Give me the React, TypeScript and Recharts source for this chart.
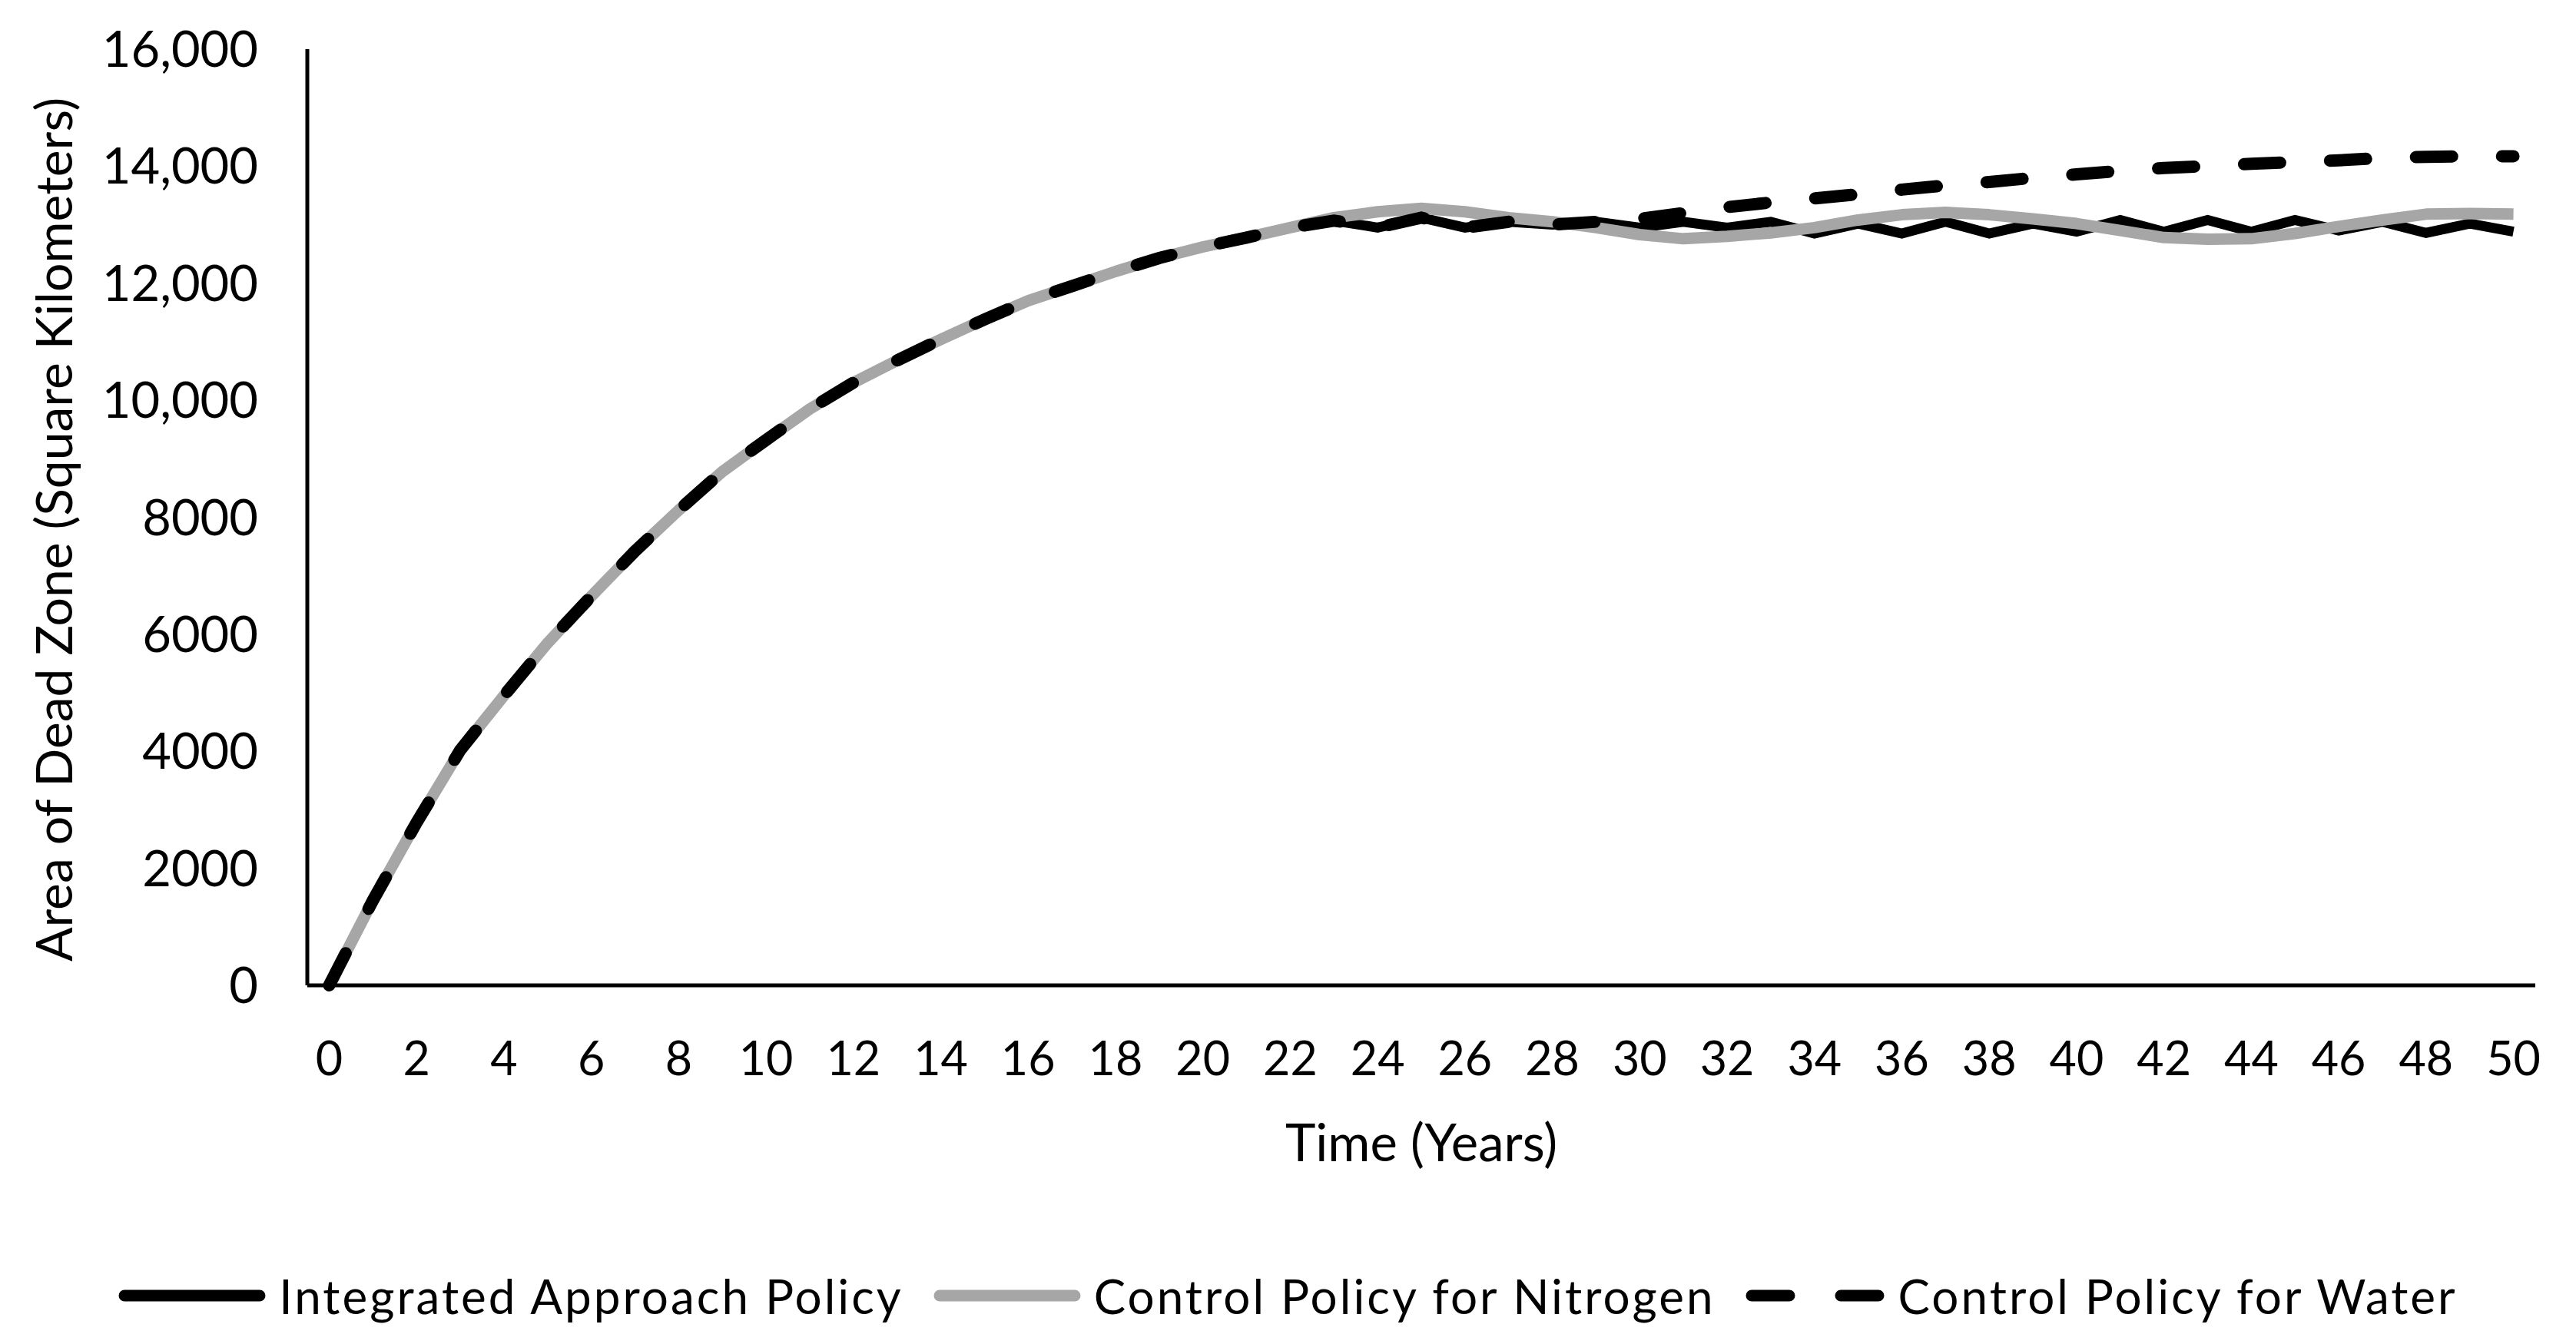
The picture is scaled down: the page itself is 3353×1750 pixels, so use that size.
import React from 'react';
import { LineChart, Line, XAxis, YAxis, Legend } from 'recharts';

const years = [0, 1, 2, 3, 4, 5, 6, 7, 8, 9, 10, 11, 12, 13, 14, 15, 16, 17, 18, 19, 20, 21, 22, 23, 24, 25, 26, 27, 28, 29, 30, 31, 32, 33, 34, 35, 36, 37, 38, 39, 40, 41, 42, 43, 44, 45, 46, 47, 48, 49, 50];

const integratedApproach = [0, 1450, 2780, 4020, 4950, 5850, 6650, 7420, 8120, 8780, 9320, 9850, 10300, 10680, 11040, 11380, 11700, 11950, 12200, 12430, 12620, 12780, 12950, 13070, 12950, 13120, 12950, 13050, 13000, 13050, 12950, 13050, 12950, 13050, 12850, 13020, 12850, 13050, 12850, 13020, 12880, 13080, 12880, 13080, 12880, 13080, 12900, 13050, 12860, 13020, 12880];

const nitrogenControl = [0, 1450, 2780, 4020, 4950, 5850, 6650, 7420, 8120, 8780, 9320, 9850, 10300, 10680, 11040, 11380, 11700, 11950, 12200, 12430, 12620, 12780, 12950, 13120, 13220, 13280, 13220, 13120, 13050, 12950, 12830, 12760, 12800, 12860, 12950, 13080, 13170, 13210, 13170, 13100, 13020, 12900, 12780, 12750, 12760, 12850, 12970, 13080, 13180, 13190, 13180];

const waterControl = [0, 1450, 2780, 4020, 4950, 5850, 6650, 7420, 8120, 8780, 9320, 9850, 10300, 10680, 11040, 11380, 11700, 11950, 12200, 12430, 12620, 12780, 12950, 13070, 12950, 13120, 12950, 13050, 13000, 13050, 13100, 13200, 13300, 13380, 13450, 13520, 13600, 13670, 13730, 13800, 13860, 13920, 13970, 14000, 14040, 14070, 14100, 14140, 14160, 14170, 14170];

const xTicks = [0, 2, 4, 6, 8, 10, 12, 14, 16, 18, 20, 22, 24, 26, 28, 30, 32, 34, 36, 38, 40, 42, 44, 46, 48, 50];
const yTicks = [0, 2000, 4000, 6000, 8000, 10000, 12000, 14000, 16000];

const seriesNames = ['Integrated Approach Policy', 'Control Policy for Nitrogen', 'Control Policy for Water'];

const data = years.map((y, i) => ({
  year: y,
  integrated: integratedApproach[i],
  nitrogen: nitrogenControl[i],
  water: waterControl[i],
}));

const FONT = 'Lato, "Open Sans", sans-serif';
const W = 3337;
const H = 1734;

const fmtY = (v: number) => (v >= 10000 ? v.toLocaleString('en-US') : String(v));

const YTitle = (props: any) => {
  const vb = props.viewBox || { x: 0, y: 0, width: 0, height: 0 };
  const cx = vb.x + 60;
  const cy = vb.y + vb.height / 2 + 16;
  return (
    <text
      x={cx}
      y={cy}
      transform={`rotate(-90, ${cx}, ${cy})`}
      textAnchor="middle"
      dominantBaseline="central"
      fontFamily={FONT}
      fontSize={66}
      fill="#000"
    >
      Area of Dead Zone (Square Kilometers)
    </text>
  );
};

const XTitle = (props: any) => {
  const vb = props.viewBox || { x: 0, y: 0, width: 0, height: 0 };
  const cx = vb.x + vb.width / 2;
  const cy = vb.y + 203;
  return (
    <text x={cx} y={cy} textAnchor="middle" dominantBaseline="central" fontFamily={FONT} fontSize={67} fill="#000">
      Time (Years)
    </text>
  );
};

const legendStyles = [
  { stroke: '#000000', dash: undefined as string | undefined, w: 192 },
  { stroke: '#a6a6a6', dash: undefined as string | undefined, w: 192 },
  { stroke: '#000000', dash: '49 67', w: 182 },
];

const LegendContent = () => (
  <div
    style={{
      display: 'flex',
      justifyContent: 'center',
      alignItems: 'center',
      height: 110,
      fontFamily: FONT,
      fontSize: 62,
      color: '#000',
      letterSpacing: 3,
      whiteSpace: 'nowrap',
    }}
  >
    {seriesNames.map((name, i) => (
      <div key={name} style={{ display: 'flex', alignItems: 'center', marginRight: i < 2 ? 39 : 0 }}>
        <svg width={legendStyles[i].w} height={30}>
          <line
            x1={8}
            x2={legendStyles[i].w - 8}
            y1={15}
            y2={15}
            stroke={legendStyles[i].stroke}
            strokeWidth={15}
            strokeLinecap="round"
            strokeDasharray={legendStyles[i].dash}
          />
        </svg>
        <span style={{ marginLeft: 17 }}>{name}</span>
      </div>
    ))}
  </div>
);

export default function App() {
  return (
    <div style={{ width: W, height: H, background: '#fff' }}>
      <LineChart width={W} height={H} data={data} margin={{ top: 56, right: 45, left: 0, bottom: 0 }}>
        <XAxis
          dataKey="year"
          type="number"
          domain={[-0.5, 50.5]}
          ticks={xTicks}
          interval={0}
          height={349}
          axisLine={{ stroke: '#000', strokeWidth: 5 }}
          tickLine={false}
          tickMargin={68}
          tick={{ fontSize: 61, fill: '#000', fontFamily: FONT }}
          label={<XTitle />}
        />
        <YAxis
          domain={[0, 16000]}
          ticks={yTicks}
          width={392}
          interval={0}
          axisLine={{ stroke: '#000', strokeWidth: 5 }}
          tickLine={false}
          tickMargin={58}
          tickFormatter={fmtY}
          tick={{ fontSize: 65, fill: '#000', fontFamily: FONT }}
          label={<YTitle />}
        />
        <Legend
          verticalAlign="bottom"
          content={<LegendContent />}
          wrapperStyle={{ left: 0, width: W }}
        />
        <Line
          type="linear"
          dataKey="integrated"
          name={seriesNames[0]}
          stroke="#000000"
          strokeWidth={13}
          dot={false}
          activeDot={false}
          isAnimationActive={false}
          strokeLinejoin="miter"
        />
        <Line
          type="linear"
          dataKey="nitrogen"
          name={seriesNames[1]}
          stroke="#a6a6a6"
          strokeWidth={15}
          dot={false}
          activeDot={false}
          isAnimationActive={false}
          strokeLinejoin="round"
        />
        <Line
          type="linear"
          dataKey="water"
          name={seriesNames[2]}
          stroke="#000000"
          strokeWidth={16}
          strokeDasharray="47 65"
          strokeLinecap="round"
          dot={false}
          activeDot={false}
          isAnimationActive={false}
        />
      </LineChart>
    </div>
  );
}
